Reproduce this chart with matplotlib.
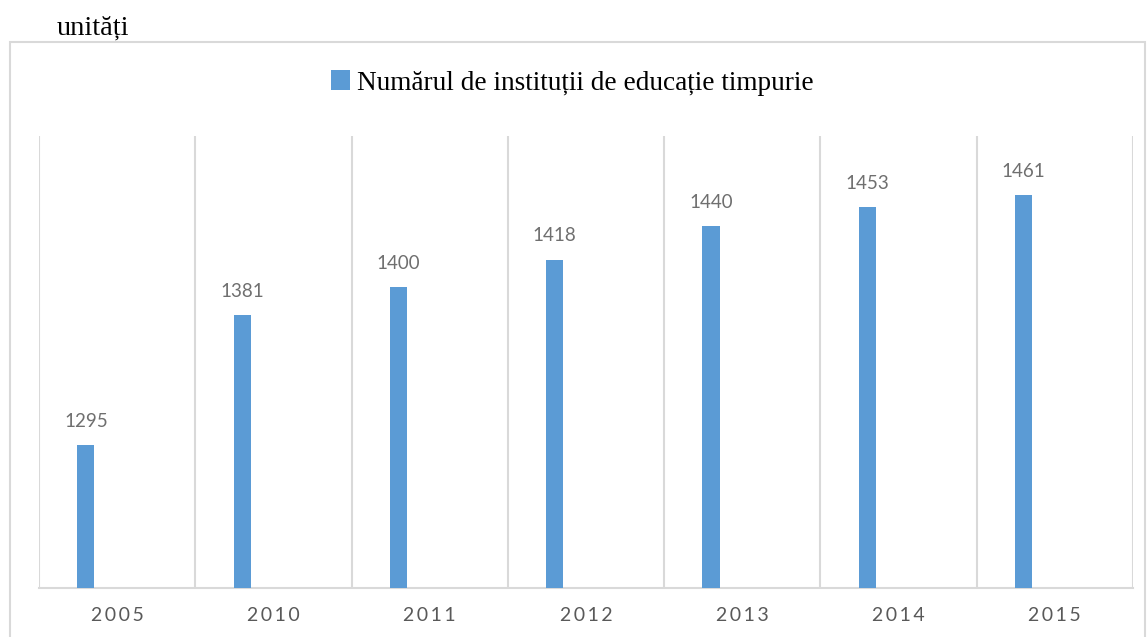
import matplotlib.pyplot as plt
from matplotlib.patches import Rectangle
import numpy as np

years = ["2005", "2010", "2011", "2012", "2013", "2014", "2015"]
values = [1295, 1381, 1400, 1418, 1440, 1453, 1461]
series_name = "Numărul de instituții de educație timpurie"
unit_label = "unități"

W, H = 1147, 637
fig = plt.figure(figsize=(W / 100, H / 100), dpi=100)

# outer chart frame
fig.patches.append(Rectangle((10 / W, -0.05), (1145 - 10) / W, (H - 42) / H + 0.05,
                             transform=fig.transFigure, fill=False,
                             edgecolor="#d9d9d9", lw=1.5))

ax = fig.add_axes([39 / W, (H - 588) / H, (1133 - 39) / W, (588 - 136) / H])

x = np.arange(len(years))
bars = ax.bar(x - 0.2, values, width=0.11, color="#5B9BD5", label=series_name, zorder=3)

for xi, v in zip(x, values):
    ax.annotate(str(v), (xi - 0.2, v), xytext=(0, 13), textcoords="offset points",
                ha="center", va="baseline", fontsize=13.5, color="#6f6f6f",
                family=["Lato", "DejaVu Sans"])

ax.set_xlim(-0.5, len(years) - 0.5)
ax.set_ylim(1200, 1500)
ax.set_yticks([])
ax.set_xticks(x)
ax.set_xticklabels(["\u2009".join(y) for y in years], fontsize=14, color="#595959",
                   family=["Lato", "DejaVu Sans"])
ax.tick_params(axis="x", length=0, pad=14)
ax.set_xticks(np.arange(-0.5, len(years)), minor=True)
ax.tick_params(axis="x", which="minor", length=0)
ax.grid(axis="x", which="minor", color="#d9d9d9", lw=1.5, zorder=0)

for s in ["top", "right", "left"]:
    ax.spines[s].set_visible(False)
ax.spines["bottom"].set_color("#d9d9d9")
ax.spines["bottom"].set_linewidth(1.5)

fig.legend(handles=[bars], labels=[series_name], loc="center", bbox_to_anchor=(572 / W, 1 - 83 / H),
           frameon=False, prop={"family": "Liberation Serif", "size": 19.6},
           handlelength=0.7, handleheight=0.7, handletextpad=0.25)

fig.text(57 / W, 1 - 35 / H, unit_label, fontsize=20.5, family="Liberation Serif",
         color="black", va="baseline")

fig.savefig("out.png", dpi=100)
